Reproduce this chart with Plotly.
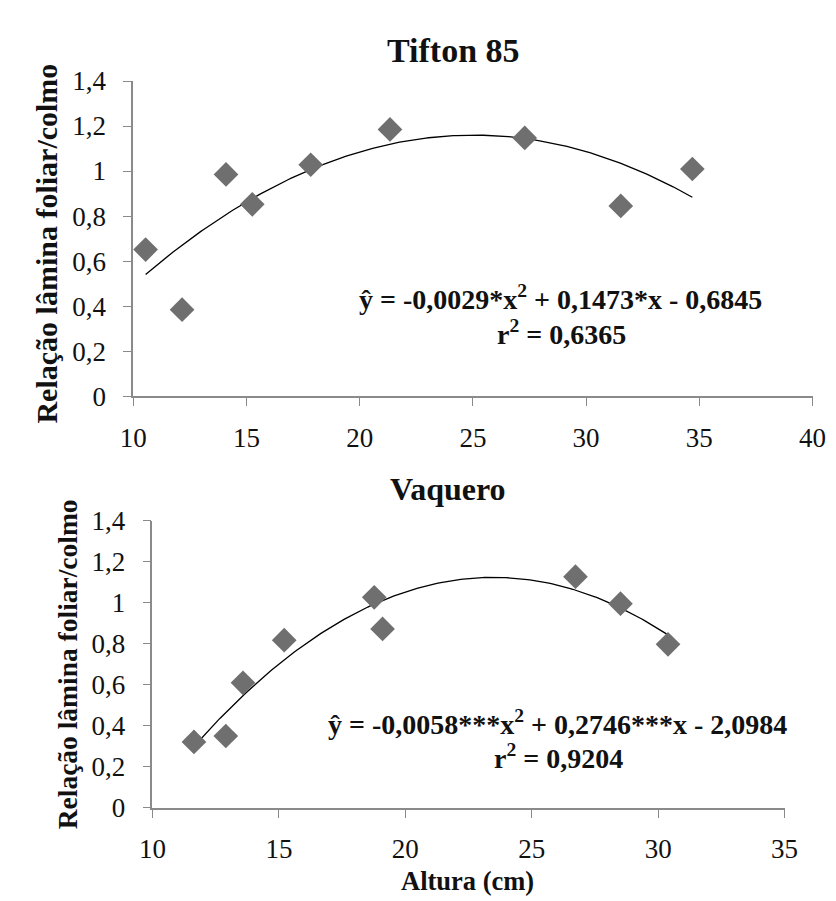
import numpy as np
import plotly.graph_objects as go

# ---- data ----
tifton_altura = [10.55, 12.16, 14.10, 15.26, 17.84, 21.34, 27.29, 31.53, 34.69]
tifton_relacao = [0.651, 0.384, 0.985, 0.852, 1.028, 1.185, 1.147, 0.845, 1.009]

vaquero_altura = [11.64, 12.90, 13.58, 15.21, 18.77, 19.10, 26.73, 28.51, 30.39]
vaquero_relacao = [0.322, 0.351, 0.610, 0.818, 1.027, 0.873, 1.128, 0.996, 0.798]

y_tick_vals = [0, 0.2, 0.4, 0.6, 0.8, 1.0, 1.2, 1.4]
y_tick_text = ["0", "0,2", "0,4", "0,6", "0,8", "1", "1,2", "1,4"]
x_ticks_top = [10, 15, 20, 25, 30, 35, 40]
x_ticks_bottom = [10, 15, 20, 25, 30, 35]

title_top = "Tifton 85"
title_bottom = "Vaquero"
y_title = "Relação lâmina foliar/colmo"
x_title = "Altura (cm)"
eq_top = "ŷ = -0,0029*x<sup>2</sup> + 0,1473*x - 0,6845"
r2_top = "r<sup>2</sup> = 0,6365"
eq_bottom = "ŷ = -0,0058***x<sup>2</sup> + 0,2746***x - 2,0984"
r2_bottom = "r<sup>2</sup> = 0,9204"

W, H = 836, 901
SERIF = "Liberation Serif"
MARKER = "#6f6f6f"
AXIS = "#8a8a8a"


def trend(x, y):
    c = np.polyfit(x, y, 2)
    xs = np.linspace(min(x), max(x), 200)
    return xs, np.polyval(c, xs)


fig = go.Figure()

for xs, ys, ax in [(tifton_altura, tifton_relacao, ""), (vaquero_altura, vaquero_relacao, "2")]:
    tx, ty = trend(xs, ys)
    fig.add_trace(go.Scatter(x=tx, y=ty, mode="lines", line=dict(color="black", width=1.3),
                             xaxis="x" + ax, yaxis="y" + ax, showlegend=False, hoverinfo="skip"))
    fig.add_trace(go.Scatter(x=xs, y=ys, mode="markers",
                             marker=dict(symbol="diamond", size=19, color=MARKER, line=dict(width=0)),
                             xaxis="x" + ax, yaxis="y" + ax, showlegend=False, cliponaxis=False))


def px_x(p):
    return p / W


def px_y(p):
    return 1 - p / H


axis_common = dict(showgrid=False, zeroline=False, showline=True, linecolor=AXIS, linewidth=1.5,
                   ticks="outside", ticklen=8, tickwidth=1.3, tickcolor=AXIS,
                   tickfont=dict(family=SERIF, size=27, color="#111"))

fig.update_layout(
    width=W, height=H, margin=dict(l=0, r=0, t=0, b=0),
    paper_bgcolor="white", plot_bgcolor="white", showlegend=False,
    font=dict(family=SERIF),
    xaxis=dict(domain=[px_x(115), px_x(818)], range=[10, 40], tickvals=x_ticks_top,
               anchor="y", ticklabelstandoff=9, **axis_common),
    yaxis=dict(domain=[px_y(386), px_y(60)], range=[0, 1.4], tickvals=y_tick_vals, ticktext=y_tick_text,
               anchor="x", ticklabelstandoff=12, **axis_common),
    xaxis2=dict(domain=[px_x(135), px_x(789)], range=[10, 35], tickvals=x_ticks_bottom,
                anchor="y2", ticklabelstandoff=8, **axis_common),
    yaxis2=dict(domain=[px_y(812), px_y(515)], range=[0, 1.4], tickvals=y_tick_vals, ticktext=y_tick_text,
                anchor="x2", ticklabelstandoff=12, **axis_common),
)


def ann(text, x, y, size, bold=True, angle=0):
    fig.add_annotation(text=("<b>%s</b>" % text) if bold else text, x=px_x(x), y=px_y(y),
                       xref="paper", yref="paper", showarrow=False, textangle=angle,
                       xanchor="center", yanchor="middle",
                       font=dict(family=SERIF, size=size, color="#111"))


ann(title_top, 446, 28, 34)
ann(title_bottom, 441, 482, 32)
ann(y_title, 25, 228, 30, angle=-90)
ann(y_title, 48, 663, 27.5, angle=-90)
ann(x_title, 461, 888, 26.5)
ann(eq_top, 557, 284, 28)
ann(r2_top, 558, 320, 28)
ann(eq_bottom, 554, 724, 28)
ann(r2_bottom, 555, 759, 28)

fig.write_html("out.html")
